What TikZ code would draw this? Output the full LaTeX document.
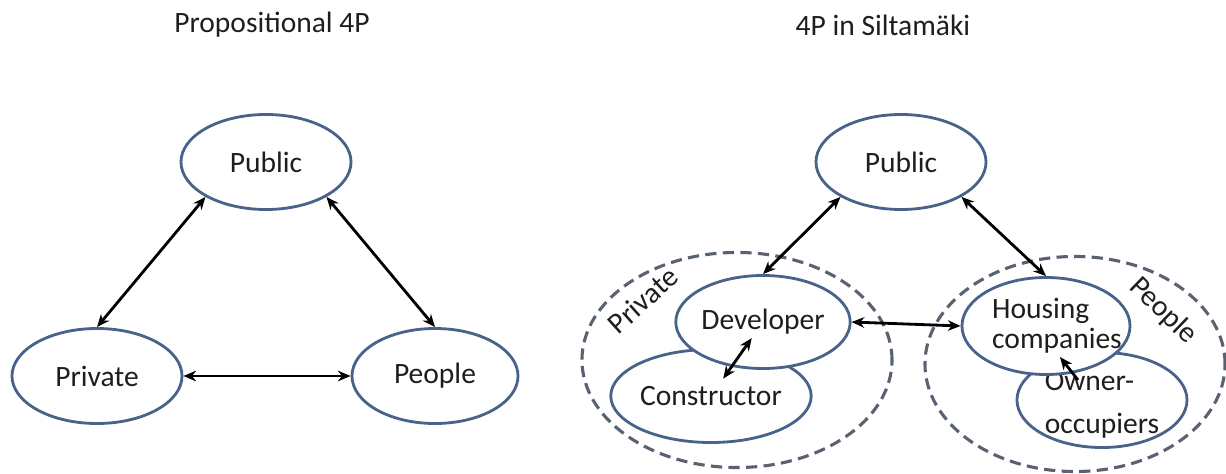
\documentclass[tikz,border=0pt]{standalone}
\usepackage{fontspec}
\setmainfont{Carlito}
\usepackage{tikz}
\usetikzlibrary{calc,arrows.meta,shapes.geometric}
\definecolor{rim}{RGB}{72,98,138}
\definecolor{group}{RGB}{88,98,112}
\definecolor{ink}{RGB}{30,30,30}
\tikzstyle{party}     = [ellipse, draw=rim, fill=white, line width=2pt, minimum width=4.25cm, minimum height=2.375cm, inner sep=0pt, align=center, text=ink, font=\fontsize{21}{21.5}\selectfont]
\tikzstyle{cluster}   = [ellipse, draw=group, line width=2.2pt, dash pattern=on 8pt off 4.5pt, inner sep=0pt]
\tikzstyle{tag}       = [text=ink, font=\fontsize{21}{24.5}\selectfont]
\tikzstyle{link}      = [line width=2pt,<->,>={Stealth[length=9pt,width=7.5pt]}]
\tikzstyle{onelink}   = [line width=2pt,->,>={Stealth[length=9pt,width=7.5pt]}]

\begin{document}
\begin{tikzpicture}[x=0.025cm,y=-0.025cm]
		\useasboundingbox (0,0) rectangle (1226,474);

		% left: propositional model
		\node[tag] (titleA) at (272,25) {Propositional 4P};
		\node[party] (pubA) at (266,162) {Public};
		\node[party] (priA) at (97,376) {Private};
		\node[party, minimum width=4.15cm] (peoA) at (435,376) {People};
		\draw[link] (pubA.210) -- (priA.north);
		\draw[link] (pubA.330) -- (peoA.north);
		\draw[link] (priA.east) -- (peoA.west);

		% right: the Siltamaki case
		\node[tag] (titleB) at (883,25) {4P in Siltamäki};
		\node[cluster, minimum width=7.75cm, minimum height=5.375cm] (grpPri) at (737,360) {};
		\node[cluster, minimum width=7.5cm, minimum height=5.375cm] (grpPeo) at (1075,364) {};
		\node[tag, rotate=42] (lblPri) at (643,300) {Private};
		\node[tag, rotate=-44] (lblPeo) at (1163,311) {People};

		\node[party] (pubB) at (901,162) {Public};
		\node[party, minimum height=2.325cm] (con) at (711,396) {Constructor};
		\node[party, minimum height=2.325cm] (dev) at (763,322) {Developer};
		\node[party, align=left, inner ysep=-0.5cm] (own) at (1102,400) {\rule{0pt}{21pt}Owner-\\[9pt]occupiers};
		\node[party, align=left, inner xsep=-0.6cm, minimum width=4.2cm, minimum height=2.425cm] (hou) at (1046,326) {\hspace*{0.55cm}Housing\\\hspace*{0.55cm}companies};

		\draw[link] (pubB.210) -- (dev.north);
		\draw[link] (pubB.330) -- (hou.north);
		\draw[link] (dev.east) -- (hou.west);
		\draw[link, shorten <=0.49cm, shorten >=0.53cm] (dev.center) -- (con.center);
		\draw[onelink] ($(own.center)+(-24,-20)$) -- ($(hou.center)+(14,31)$);
	\end{tikzpicture}
\end{document}
